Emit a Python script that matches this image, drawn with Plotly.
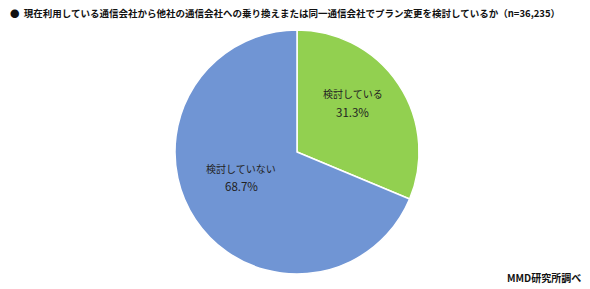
import math
import plotly.graph_objects as go

labels = ["検討している", "検討していない"]
values = [31.3, 68.7]
colors = ["#92D050", "#7095D4"]
title_text = "●  現在利用している通信会社から他社の通信会社への乗り換えまたは同一通信会社でプラン変更を検討しているか（n=36,235）"
source_text = "MMD研究所調べ"

W, H = 590, 289
cx, cy, r = 297, 152, 122

fig = go.Figure(go.Pie(
    labels=labels,
    values=values,
    sort=False,
    direction="clockwise",
    rotation=0,
    marker=dict(colors=colors, line=dict(color="white", width=1.5)),
    textinfo="none",
    domain=dict(x=[(cx - r) / W, (cx + r) / W], y=[1 - (cy + r) / H, 1 - (cy - r) / H]),
    showlegend=False,
    hoverinfo="skip",
))

# data labels placed at each slice's mid-angle (derived from the values)
total = sum(values)
cum = 0.0
lab_font = dict(family="Noto Sans CJK JP", size=10, color="#222222")
pct_font = dict(family="Noto Sans CJK JP", size=11.5, color="#222222")
for lab, val in zip(labels, values):
    mid = (cum + val / 2) / total
    cum += val
    th = 2 * math.pi * mid
    px = cx + 0.55 * r * math.sin(th)
    py = cy - 0.55 * r * math.cos(th) - 12
    for txt, dy, f in ((lab, -9, lab_font), (f"{val:.1f}%", 9, pct_font)):
        fig.add_annotation(text=txt, x=px / W, y=1 - (py + dy) / H, xref="paper", yref="paper",
                           xanchor="center", yanchor="middle", showarrow=False, font=f)

fig.add_annotation(text="<b>" + title_text + "</b>", x=8 / W, y=1 - 13 / H, xref="paper", yref="paper",
                   xanchor="left", yanchor="middle", showarrow=False,
                   font=dict(family="Noto Sans CJK JP", size=9.5, color="#111111"))
fig.add_annotation(text="<b>" + source_text + "</b>", x=583 / W, y=1 - 277 / H, xref="paper", yref="paper",
                   xanchor="right", yanchor="middle", showarrow=False,
                   font=dict(family="Noto Sans CJK JP", size=10, color="#111111"))

fig.update_layout(width=W, height=H, margin=dict(l=0, r=0, t=0, b=0),
                  paper_bgcolor="white", plot_bgcolor="white")
fig.write_html("out.html")
